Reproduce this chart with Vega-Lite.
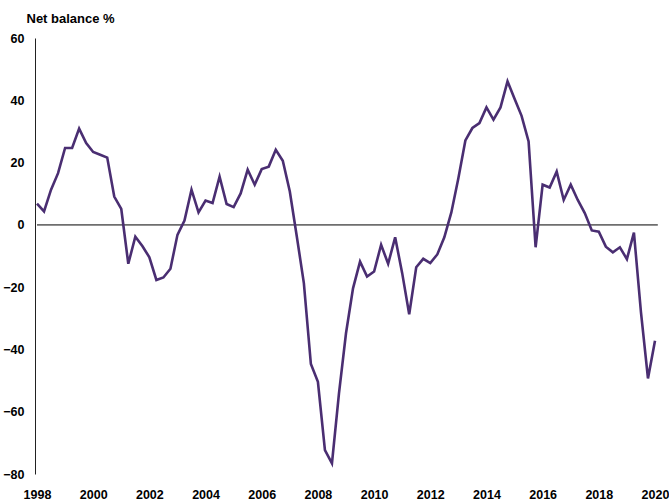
{
  "$schema": "https://vega.github.io/schema/vega-lite/v6.json",
  "width": 618,
  "height": 436,
  "autosize": "none",
  "padding": {"left": 37, "top": 38, "right": 14, "bottom": 30},
  "background": "white",
  "config": {"view": {"stroke": null}},
  "datasets": {
    "series": [
      {"t": 1998.00, "v": 6.8}, {"t": 1998.25, "v": 4.3}, {"t": 1998.50, "v": 11.3}, {"t": 1998.75, "v": 16.6},
      {"t": 1999.00, "v": 24.7}, {"t": 1999.25, "v": 24.7}, {"t": 1999.50, "v": 30.9}, {"t": 1999.75, "v": 26.3},
      {"t": 2000.00, "v": 23.4}, {"t": 2000.25, "v": 22.5}, {"t": 2000.50, "v": 21.6}, {"t": 2000.75, "v": 9.1},
      {"t": 2001.00, "v": 5.1}, {"t": 2001.25, "v": -12.5}, {"t": 2001.50, "v": -3.8}, {"t": 2001.75, "v": -6.8},
      {"t": 2002.00, "v": -10.4}, {"t": 2002.25, "v": -17.7}, {"t": 2002.50, "v": -16.9}, {"t": 2002.75, "v": -14.1},
      {"t": 2003.00, "v": -3.2}, {"t": 2003.25, "v": 1.4}, {"t": 2003.50, "v": 11.3}, {"t": 2003.75, "v": 4.0},
      {"t": 2004.00, "v": 7.8}, {"t": 2004.25, "v": 7.0}, {"t": 2004.50, "v": 15.5}, {"t": 2004.75, "v": 6.7},
      {"t": 2005.00, "v": 5.7}, {"t": 2005.25, "v": 10.1}, {"t": 2005.50, "v": 17.7}, {"t": 2005.75, "v": 12.9},
      {"t": 2006.00, "v": 17.9}, {"t": 2006.25, "v": 18.7}, {"t": 2006.50, "v": 24.1}, {"t": 2006.75, "v": 20.6},
      {"t": 2007.00, "v": 10.7}, {"t": 2007.25, "v": -3.8}, {"t": 2007.50, "v": -18.7}, {"t": 2007.75, "v": -44.7},
      {"t": 2008.00, "v": -50.4}, {"t": 2008.25, "v": -72.3}, {"t": 2008.50, "v": -76.6}, {"t": 2008.75, "v": -54.1},
      {"t": 2009.00, "v": -34.8}, {"t": 2009.25, "v": -20.4}, {"t": 2009.50, "v": -11.8}, {"t": 2009.75, "v": -16.6},
      {"t": 2010.00, "v": -15.0}, {"t": 2010.25, "v": -6.4}, {"t": 2010.50, "v": -12.5}, {"t": 2010.75, "v": -4.0},
      {"t": 2011.00, "v": -15.5}, {"t": 2011.25, "v": -28.7}, {"t": 2011.50, "v": -13.6}, {"t": 2011.75, "v": -10.9},
      {"t": 2012.00, "v": -12.3}, {"t": 2012.25, "v": -9.5}, {"t": 2012.50, "v": -4.0}, {"t": 2012.75, "v": 4.0},
      {"t": 2013.00, "v": 15.0}, {"t": 2013.25, "v": 27.1}, {"t": 2013.50, "v": 31.1}, {"t": 2013.75, "v": 32.7},
      {"t": 2014.00, "v": 37.7}, {"t": 2014.25, "v": 33.8}, {"t": 2014.50, "v": 37.7}, {"t": 2014.75, "v": 46.1},
      {"t": 2015.00, "v": 40.5}, {"t": 2015.25, "v": 35.0}, {"t": 2015.50, "v": 26.8}, {"t": 2015.75, "v": -7.2},
      {"t": 2016.00, "v": 12.9}, {"t": 2016.25, "v": 12.0}, {"t": 2016.50, "v": 17.1}, {"t": 2016.75, "v": 8.0},
      {"t": 2017.00, "v": 12.9}, {"t": 2017.25, "v": 8.0}, {"t": 2017.50, "v": 3.8}, {"t": 2017.75, "v": -1.8},
      {"t": 2018.00, "v": -2.2}, {"t": 2018.25, "v": -7.0}, {"t": 2018.50, "v": -8.8}, {"t": 2018.75, "v": -7.2},
      {"t": 2019.00, "v": -11.0}, {"t": 2019.25, "v": -2.5}, {"t": 2019.50, "v": -28.0}, {"t": 2019.75, "v": -49.3},
      {"t": 2020.00, "v": -37.2}
    ],
    "zero": [{"a": 1998, "b": 2020.1, "y": 0}]
  },
  "layer": [
    {
      "data": {"name": "zero"},
      "mark": {"type": "rule", "color": "#6e6e6e", "strokeWidth": 1.6},
      "encoding": {
        "x": {"field": "a", "type": "quantitative", "scale": {"domain": [1998, 2020]}},
        "x2": {"field": "b"},
        "y": {"field": "y", "type": "quantitative", "scale": {"domain": [-80, 60]}}
      }
    },
    {
      "data": {"name": "series"},
      "mark": {"type": "line", "color": "#4a2e72", "strokeWidth": 2.6, "strokeJoin": "miter", "clip": false},
      "encoding": {
        "x": {
          "field": "t", "type": "quantitative",
          "scale": {"domain": [1998, 2020], "nice": false, "zero": false},
          "axis": {
            "values": [1998, 2000, 2002, 2004, 2006, 2008, 2010, 2012, 2014, 2016, 2018, 2020],
            "format": "d", "domain": false, "ticks": false, "grid": false, "title": null,
            "labelFont": "Liberation Sans", "labelFontWeight": "bold", "labelFontSize": 12.5,
            "labelColor": "#000000", "labelPadding": 14, "labelFlush": false, "labelOverlap": false
          }
        },
        "y": {
          "field": "v", "type": "quantitative",
          "scale": {"domain": [-80, 60], "nice": false, "zero": false},
          "axis": {
            "values": [-80, -60, -40, -20, 0, 20, 40, 60],
            "domain": true, "domainColor": "#222222", "domainWidth": 1, "offset": 2,
            "ticks": false, "grid": false,
            "labelFont": "Liberation Sans", "labelFontWeight": "bold", "labelFontSize": 12.5,
            "labelColor": "#000000", "labelPadding": 11, "labelFlush": false, "labelOverlap": false,
            "title": "Net balance %", "titleAngle": 0, "titleAlign": "left", "titleBaseline": "alphabetic",
            "titleX": -9, "titleY": -16, "titleFont": "Liberation Sans", "titleFontWeight": "bold",
            "titleFontSize": 13, "titleColor": "#000000"
          }
        }
      }
    }
  ]
}
